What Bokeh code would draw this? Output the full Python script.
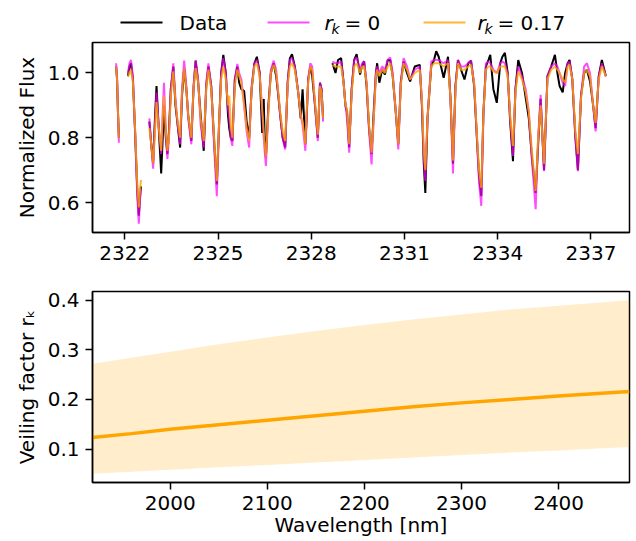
import numpy as np
from bokeh.plotting import figure
from bokeh.layouts import column
from bokeh.models import Range1d, FixedTicker, PrintfTickFormatter, ColumnDataSource
from bokeh.embed import file_html
from bokeh.resources import INLINE
from bokeh.core.properties import value

nan = float("nan")

# ---------------- spectrum (top panel) ----------------
wavelength = [
    2321.72, 2321.75, 2321.78, 2321.81, 2321.95,
    2322.10, 2322.15, 2322.20, 2322.26, 2322.33, 2322.40, 2322.45, 2322.49, 2322.52, 2322.65,
    2322.79, 2322.85, 2322.91, 2322.97, 2323.02, 2323.08, 2323.17, 2323.22, 2323.26, 2323.32,
    2323.37, 2323.42, 2323.48, 2323.56, 2323.63, 2323.70, 2323.78, 2323.84, 2323.91, 2323.98,
    2324.04, 2324.14, 2324.21, 2324.28, 2324.36, 2324.44, 2324.54, 2324.62, 2324.69, 2324.78,
    2324.88, 2324.96, 2325.04, 2325.10, 2325.17, 2325.25, 2325.32, 2325.36, 2325.41, 2325.46,
    2325.54, 2325.62, 2325.68, 2325.75, 2325.84, 2325.92, 2326.00, 2326.08, 2326.17, 2326.25,
    2326.34, 2326.42, 2326.47, 2326.50, 2326.54, 2326.62, 2326.70, 2326.79, 2326.87, 2326.94,
    2327.00, 2327.08, 2327.16, 2327.24, 2327.31, 2327.38, 2327.47, 2327.58, 2327.66, 2327.72,
    2327.81, 2327.85, 2327.90, 2327.97, 2328.03, 2328.12, 2328.21, 2328.28, 2328.33, 2328.38, 2328.53,
    2328.68, 2328.78, 2328.86, 2328.96, 2329.04, 2329.10, 2329.15, 2329.22, 2329.30, 2329.38,
    2329.46, 2329.57, 2329.64, 2329.70, 2329.78, 2329.86, 2329.94, 2330.02, 2330.08, 2330.12,
    2330.19, 2330.28, 2330.37, 2330.46, 2330.54, 2330.62, 2330.72, 2330.80, 2330.88, 2330.97,
    2331.08, 2331.18, 2331.33, 2331.49, 2331.56, 2331.62, 2331.67, 2331.74, 2331.86, 2331.95,
    2332.02, 2332.10, 2332.26, 2332.40, 2332.48, 2332.56, 2332.64, 2332.72, 2332.82, 2332.93,
    2333.05, 2333.14, 2333.24, 2333.33, 2333.40, 2333.47, 2333.54, 2333.62, 2333.70, 2333.76,
    2333.86, 2333.97, 2334.08, 2334.15, 2334.23, 2334.32, 2334.40, 2334.49, 2334.57, 2334.66,
    2334.78, 2334.90, 2335.00, 2335.10, 2335.22, 2335.30, 2335.38, 2335.44, 2335.49, 2335.60,
    2335.72, 2335.84, 2335.92, 2335.99, 2336.09, 2336.17, 2336.25, 2336.31, 2336.40, 2336.50,
    2336.58, 2336.68, 2336.78, 2336.87, 2336.97, 2337.07, 2337.15, 2337.25, 2337.35, 2337.48,
]

flux_data = [
    1.02, 0.98, 0.88, 0.80, nan,
    0.99, 1.02, 1.03, 0.98, 0.82, 0.64, 0.56, 0.62, 0.65, nan,
    0.85, 0.78, 0.72, 0.86, 0.96, 0.85, 0.69, 0.80, 0.90, 0.80,
    0.75, 0.82, 0.95, 1.02, 0.90, 0.84, 0.77, 0.93, 1.015, 0.95,
    0.87, 0.79, 0.95, 1.038, 0.97, 0.87, 0.76, 0.96, 1.02, 0.96,
    0.78, 0.656, 0.86, 1.00, 1.056, 1.00, 0.87, 0.83, 0.80, 0.79,
    0.98, 1.02, 0.97, 0.95, 0.944, 0.85, 0.80, 0.95, 1.03, 1.05,
    1.00, 0.815, 0.92, 0.80, 0.74, 0.90, 1.00, 1.03, 0.99, 0.93,
    0.87, 0.80, 0.77, 0.97, 1.045, 1.058, 1.02, 0.94, 0.86, 0.95,
    0.78, 0.86, 0.98, 1.02, 0.99, 0.90, 0.80, 0.97, 0.95, 0.86, nan,
    1.03, 1.00, 1.04, 1.046, 0.97, 0.90, 0.88, 0.77, 0.95, 1.04,
    1.058, 0.995, 1.025, 1.036, 0.96, 0.83, 0.75, 0.90, 1.00, 1.03,
    0.97, 1.01, 0.995, 1.04, 1.04, 0.99, 0.877, 0.78, 0.97, 1.035,
    1.00, 0.974, 1.02, 1.025, 0.90, 0.72, 0.63, 0.86, 1.02, 1.04,
    1.067, 1.05, 0.985, 1.05, 0.92, 0.72, 0.96, 1.04, 1.01, 0.98,
    1.03, 1.038, 0.96, 0.80, 0.68, 0.62, 0.88, 1.02, 1.04, 1.056,
    0.95, 0.908, 1.03, 1.05, 1.062, 1.00, 0.85, 0.728, 0.95, 1.04,
    1.00, 0.923, 0.86, 0.74, 0.63, 0.78, 0.92, 0.80, 0.70, 0.99,
    1.02, 1.056, 1.00, 0.96, 0.94, 1.00, 1.03, 1.04, 0.98, 0.80,
    0.70, 0.93, 1.00, 1.01, 0.974, 0.90, 0.83, 0.99, 1.04, 0.99,
]

flux_rk0 = [
    1.03, 0.99, 0.87, 0.785, nan,
    1.00, 1.03, 1.04, 0.99, 0.82, 0.62, 0.535, 0.61, 0.64, nan,
    0.86, 0.78, 0.705, 0.84, 0.94, 0.85, 0.75, 0.88, 0.97, 0.82,
    0.735, 0.80, 0.95, 1.03, 0.92, 0.84, 0.78, 0.95, 1.038, 0.96,
    0.86, 0.78, 0.96, 1.038, 0.98, 0.84, 0.77, 0.97, 1.03, 0.96,
    0.76, 0.62, 0.85, 1.00, 1.046, 1.00, 0.89, 0.86, 0.80, 0.775,
    0.98, 1.028, 1.00, 0.98, 0.90, 0.82, 0.77, 0.96, 1.03, 1.04,
    1.00, 0.88, 0.80, 0.76, 0.713, 0.89, 1.01, 1.038, 1.01, 0.93,
    0.87, 0.80, 0.764, 0.97, 1.04, 1.046, 1.02, 0.94, 0.87, 0.84,
    0.76, 0.86, 0.98, 1.03, 1.02, 0.90, 0.79, 0.97, 0.95, 0.85, nan,
    1.035, 1.03, 1.03, 1.035, 0.97, 0.90, 0.86, 0.754, 0.95, 1.04,
    1.048, 1.01, 1.03, 1.036, 0.97, 0.82, 0.718, 0.88, 1.00, 1.02,
    1.00, 1.02, 1.01, 1.04, 1.048, 1.00, 0.88, 0.764, 0.97, 1.046,
    1.02, 0.98, 1.01, 1.02, 0.91, 0.74, 0.667, 0.86, 1.036, 1.04,
    1.04, 1.04, 1.03, 1.04, 0.92, 0.69, 0.96, 1.04, 1.02, 1.02,
    1.03, 1.038, 0.97, 0.80, 0.66, 0.59, 0.87, 1.03, 1.035, 1.03,
    1.01, 1.00, 1.03, 1.035, 1.03, 1.00, 0.86, 0.744, 0.95, 1.02,
    0.99, 0.95, 0.88, 0.73, 0.58, 0.80, 0.933, 0.80, 0.697, 0.99,
    1.02, 1.03, 1.02, 1.00, 0.97, 0.96, 1.03, 1.035, 0.98, 0.80,
    0.697, 0.93, 1.02, 1.03, 1.00, 0.90, 0.82, 0.99, 1.03, 0.99,
]

flux_rk017 = [
    1.02, 0.98, 0.88, 0.80, nan,
    0.99, 1.00, 1.01, 0.97, 0.83, 0.66, 0.585, 0.64, 0.67, nan,
    0.83, 0.78, 0.72, 0.82, 0.91, 0.84, 0.76, 0.86, 0.93, 0.82,
    0.76, 0.80, 0.93, 1.005, 0.91, 0.85, 0.80, 0.94, 1.015, 0.95,
    0.87, 0.80, 0.95, 1.015, 0.97, 0.86, 0.79, 0.95, 1.01, 0.95,
    0.79, 0.667, 0.86, 0.98, 1.02, 0.98, 0.90, 0.93, 0.84, 0.80,
    0.96, 1.01, 0.99, 0.97, 0.90, 0.83, 0.79, 0.95, 1.02, 1.03,
    0.99, 0.89, 0.82, 0.78, 0.74, 0.88, 1.00, 1.025, 1.00, 0.94,
    0.88, 0.82, 0.79, 0.96, 1.02, 1.03, 1.01, 0.94, 0.87, 0.85,
    0.78, 0.88, 0.97, 1.02, 1.01, 0.91, 0.81, 0.96, 0.94, 0.86, nan,
    1.025, 1.02, 1.02, 1.02, 0.97, 0.90, 0.89, 0.78, 0.94, 1.02,
    1.03, 1.00, 1.02, 1.02, 0.97, 0.84, 0.754, 0.88, 0.99, 1.01,
    0.99, 1.01, 1.00, 1.02, 1.03, 0.99, 0.88, 0.78, 0.96, 1.03,
    1.01, 0.98, 1.00, 1.01, 0.92, 0.76, 0.70, 0.86, 1.02, 1.03,
    1.03, 1.03, 1.02, 1.03, 0.92, 0.73, 0.95, 1.03, 1.01, 1.01,
    1.02, 1.025, 0.97, 0.81, 0.70, 0.646, 0.88, 1.01, 1.02, 1.02,
    1.005, 1.00, 1.02, 1.02, 1.02, 0.99, 0.87, 0.775, 0.94, 1.005,
    0.98, 0.94, 0.88, 0.76, 0.636, 0.80, 0.90, 0.80, 0.72, 0.98,
    1.01, 1.02, 1.01, 1.00, 0.98, 0.97, 1.02, 1.025, 0.98, 0.82,
    0.75, 0.92, 1.00, 1.01, 0.99, 0.90, 0.846, 0.98, 1.02, 0.99,
]

assert len(wavelength) == len(flux_data) == len(flux_rk0) == len(flux_rk017)

spec_xticks = [2322, 2325, 2328, 2331, 2334, 2337]
spec_yticks = [0.6, 0.8, 1.0]

# ---------------- veiling factor (bottom panel) ----------------
veil_wave = [1920, 1960, 2000, 2050, 2100, 2150, 2200, 2250, 2300, 2350, 2400, 2440, 2473]
veil_mid = [0.123, 0.131, 0.140, 0.149, 0.158, 0.167, 0.176, 0.185, 0.193, 0.200, 0.207, 0.212, 0.216]
veil_upper = [0.272, 0.284, 0.296, 0.311, 0.325, 0.338, 0.350, 0.361, 0.371, 0.381, 0.389, 0.395, 0.400]
veil_lower = [0.050, 0.054, 0.058, 0.063, 0.068, 0.073, 0.078, 0.083, 0.088, 0.093, 0.097, 0.101, 0.104]

veil_xticks = [2000, 2100, 2200, 2300, 2400]
veil_yticks = [0.1, 0.2, 0.3, 0.4]

legend_names = ["Data", "= 0", "= 0.17"]

FONT = "DejaVu Sans"
FS = "20px"
MAGENTA = "#ff00ff"
ORANGE = "#ffa500"
W = 634
LEFT = 92
RIGHT = 5


def style(p):
    p.outline_line_color = "black"
    p.outline_line_width = 1.5
    p.outline_line_alpha = 1.0
    p.grid.visible = False
    p.background_fill_color = "white"
    p.border_fill_color = "white"
    for ax in p.axis:
        ax.axis_line_color = "black"
        ax.axis_line_width = 1.5
        ax.major_tick_line_color = "black"
        ax.major_tick_line_width = 1.5
        ax.major_tick_out = 7
        ax.major_tick_in = 0
        ax.minor_tick_line_color = None
        ax.major_label_text_font = FONT
        ax.major_label_text_font_size = FS
        ax.major_label_text_color = "black"
        ax.major_label_standoff = 6
        ax.axis_label_text_font = FONT
        ax.axis_label_text_font_size = FS
        ax.axis_label_text_font_style = "normal"
        ax.axis_label_text_color = "black"


# ---------------- legend row (frame aligned with the panels; x in page pixels) ----------------
LEG_H = 38
leg = figure(width=W, height=LEG_H, x_range=Range1d(LEFT, W - RIGHT), y_range=Range1d(0, LEG_H),
             output_backend="svg", toolbar_location=None,
             min_border_left=LEFT, min_border_right=RIGHT, min_border_top=0, min_border_bottom=0,
             x_axis_type=None, y_axis_type=None)
leg.outline_line_color = None
leg.grid.visible = False
leg.border_fill_color = "white"
leg.background_fill_color = "white"

ly = LEG_H - 22
txt = dict(text_font=value(FONT), text_baseline="middle", text_align="left", text_color="black")
leg.line([120, 162], [ly, ly], line_color="black", line_width=2)
leg.text(x=[179], y=[ly], text=[legend_names[0]], text_font_size=FS, **txt)

leg.line([267, 309], [ly, ly], line_color=MAGENTA, line_alpha=0.7, line_width=2)
leg.text(x=[324], y=[ly], text=["r"], text_font_size=FS, text_font_style="italic", **txt)
leg.text(x=[331], y=[ly - 6], text=["k"], text_font_size="14px", text_font_style="italic", **txt)
leg.text(x=[344], y=[ly], text=[legend_names[1]], text_font_size=FS, **txt)

leg.line([423, 465], [ly, ly], line_color=ORANGE, line_alpha=0.8, line_width=2)
leg.text(x=[477], y=[ly], text=["r"], text_font_size=FS, text_font_style="italic", **txt)
leg.text(x=[484], y=[ly - 6], text=["k"], text_font_size="14px", text_font_style="italic", **txt)
leg.text(x=[497], y=[ly], text=[legend_names[2]], text_font_size=FS, **txt)

# ---------------- top panel ----------------
top = figure(width=W, height=249, output_backend="svg", toolbar_location=None,
             x_range=Range1d(2320.96, 2338.24), y_range=Range1d(0.508, 1.094),
             min_border_left=LEFT, min_border_right=RIGHT, min_border_top=4, min_border_bottom=55)
src = ColumnDataSource(dict(w=np.array(wavelength), d=np.array(flux_data),
                            m0=np.array(flux_rk0), m17=np.array(flux_rk017)))
top.line("w", "d", source=src, line_color="black", line_width=2)
top.line("w", "m0", source=src, line_color=MAGENTA, line_alpha=0.7, line_width=2)
top.line("w", "m17", source=src, line_color=ORANGE, line_alpha=0.8, line_width=2)
style(top)
top.xaxis.ticker = FixedTicker(ticks=spec_xticks)
top.yaxis.ticker = FixedTicker(ticks=spec_yticks)
top.xaxis.formatter = PrintfTickFormatter(format="%d")
top.yaxis.formatter = PrintfTickFormatter(format="%.1f")
top.yaxis.axis_label = "Normalized Flux"
top.yaxis.axis_label_standoff = 6

# ---------------- bottom panel ----------------
bot = figure(width=W, height=254, output_backend="svg", toolbar_location=None,
             x_range=Range1d(1920, 2473), y_range=Range1d(0.0325, 0.4175),
             min_border_left=LEFT, min_border_right=RIGHT, min_border_top=4, min_border_bottom=59)
bot.varea(x=veil_wave, y1=veil_lower, y2=veil_upper, fill_color=ORANGE, fill_alpha=0.2)
bot.line(veil_wave, veil_mid, line_color=ORANGE, line_width=3.5)
style(bot)
bot.xaxis.ticker = FixedTicker(ticks=veil_xticks)
bot.yaxis.ticker = FixedTicker(ticks=veil_yticks)
bot.xaxis.formatter = PrintfTickFormatter(format="%d")
bot.yaxis.formatter = PrintfTickFormatter(format="%.1f")
bot.yaxis.axis_label = "Veiling factor r\u2096"
bot.yaxis.axis_label_standoff = 6
bot.xaxis.axis_label = "Wavelength [nm]"
bot.xaxis.axis_label_standoff = 0

layout = column(leg, top, bot, spacing=0)
open("out.html", "w").write(file_html(layout, INLINE))
